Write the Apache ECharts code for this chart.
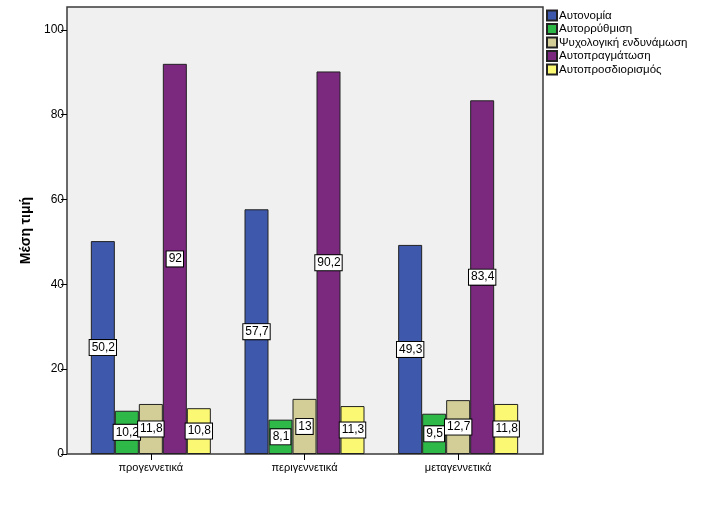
<!DOCTYPE html>
<html><head><meta charset="utf-8">
<script src="https://cdn.jsdelivr.net/npm/echarts@6/dist/echarts.min.js"></script>
<style>html,body{margin:0;padding:0;background:#fff}#c{width:726px;height:514px}</style>
</head><body><div id="c"></div>
<script>
var categories = ['προγεννετικά', 'περιγεννετικά', 'μεταγεννετικά'];
var seriesNames = ['Αυτονομία', 'Αυτορρύθμιση', 'Ψυχολογική ενδυνάμωση', 'Αυτοπραγμάτωση', 'Αυτοπροσδιορισμός'];
var autonomia = [50.2, 57.7, 49.3];
var autorrythmisi = [10.2, 8.1, 9.5];
var psychologiki = [11.8, 13, 12.7];
var autopragmatosi = [92, 90.2, 83.4];
var autoprosdiorismos = [10.8, 11.3, 11.8];
var yTicks = [0, 20, 40, 60, 80, 100];
var colors = ['#3E58AC', '#2EB848', '#D3CE97', '#7B287F', '#FBF873'];
var values = [autonomia, autorrythmisi, psychologiki, autopragmatosi, autoprosdiorismos];

var font = '"Liberation Sans", Arial, sans-serif';
var chart = echarts.init(document.getElementById('c'), null, {renderer: 'canvas'});
var series = seriesNames.map(function (n, i) {
  return {
    name: n, type: 'bar', xAxisIndex: 1, yAxisIndex: 1,
    data: values[i], barWidth: 24, barGap: '0%',
    itemStyle: {color: colors[i], borderColor: '#222', borderWidth: 1},
    label: {
      show: true, position: 'inside', color: '#000', fontSize: 12, fontFamily: font,
      backgroundColor: '#fff', borderColor: '#000', borderWidth: 1, padding: [2, 1, 1, 2],
      formatter: function (p) { return String(p.value).replace('.', ','); }
    },
    emphasis: {disabled: true}
  };
});
chart.setOption({
  animation: false,
  textStyle: {fontFamily: font},
  grid: [
    {left: 67, top: 7, width: 476, height: 447, show: true, backgroundColor: '#f0f0f0', borderColor: '#3a3a3a', borderWidth: 1.5},
    {left: 74, right: 191, top: 7, bottom: 60}
  ],
  legend: {
    data: seriesNames, orient: 'vertical', left: 546, top: 9, padding: 0,
    icon: 'rect', itemWidth: 10, itemHeight: 10, itemGap: 0.5,
    textStyle: {fontSize: 11.5, color: '#000', fontFamily: font, lineHeight: 13, padding: [0, 0, 0, -3]},
    selectedMode: false
  },
  xAxis: [
    {gridIndex: 0, type: 'value', show: false, min: 0, max: 1},
    {gridIndex: 1, type: 'category', data: categories,
     axisLine: {show: false},
     axisTick: {show: true, alignWithLabel: true, length: 6, lineStyle: {color: '#000'}},
     axisLabel: {color: '#000', fontSize: 11, margin: 8, fontFamily: font}}
  ],
  yAxis: [
    {gridIndex: 0, type: 'value', show: false, min: 0, max: 1},
    {gridIndex: 1, type: 'value', min: 0, max: 105.4, interval: 20, offset: 7,
     name: 'Μέση τιμή', nameLocation: 'middle', nameGap: 32,
     nameTextStyle: {fontSize: 14, fontWeight: 'bold', color: '#000', fontFamily: font},
     axisLine: {show: false},
     axisTick: {show: true, length: 6, lineStyle: {color: '#000'}, customValues: yTicks},
     axisLabel: {color: '#000', fontSize: 12, margin: 3, fontFamily: font, customValues: yTicks},
     splitLine: {show: false}}
  ],
  series: series
});
</script></body></html>
